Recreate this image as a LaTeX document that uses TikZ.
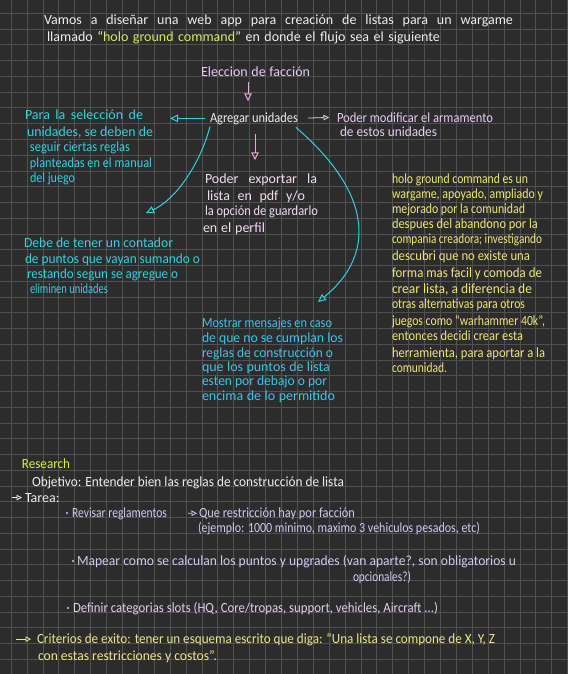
\documentclass[tikz,border=0pt]{standalone}
\usepackage{fontspec}
\setmainfont{Carlito}
\usetikzlibrary{arrows.meta}
\definecolor{bg}{HTML}{2C2C2C}
\definecolor{gridc}{HTML}{515151}
\definecolor{wht}{HTML}{EEEEEE}
\definecolor{hgc}{HTML}{D6EC5C}
\definecolor{lav}{HTML}{E6CDF2}
\definecolor{pnk}{HTML}{EBA6DA}
\definecolor{pkw}{HTML}{F2DDF2}
\definecolor{cyn}{HTML}{2FD3E3}
\definecolor{cyb}{HTML}{3CC4EC}
\definecolor{ylw}{HTML}{EEE873}
\definecolor{rsc}{HTML}{DDF03C}
\definecolor{lvb}{HTML}{CFCBF6}
\definecolor{ylc}{HTML}{EEE886}
\newsavebox\fitbox
\newlength\fitw
\newcommand\fitln[2]{\sbox\fitbox{#2}\setlength\fitw{\wd\fitbox}\ifdim\fitw>#1\relax\scalebox{\fpeval{(#1)/\fitw}}[1]{\usebox\fitbox}\else\makebox[#1][s]{#2}\fi}
\newcommand\txtln[6]{\node[txt,text=#5] (#1) at (#2,#3) {\fitln{#4pt}{#6}};}
\tikzset{
  txt/.style={anchor=base west,inner sep=0pt,outer sep=0pt,font=\fontsize{14}{16}\selectfont},
  gridline/.style={draw=gridc,line width=0.6pt},
  harr/.style={-{Triangle[open,length=8pt,width=7.5pt]},line width=1pt},
  sarr/.style={-{Triangle[open,length=5.5pt,width=5.5pt]},line width=0.8pt},
}
\begin{document}
\begin{tikzpicture}[x=1pt,y=-1pt]
\useasboundingbox (0,0) rectangle (568,674);
\fill[bg] (0,0) rectangle (568,674);
\foreach \i in {0,...,35} {\draw[gridline] ({11+15.9*\i},0) -- ({11+15.9*\i},674);}
\foreach \j in {0,...,42} {\draw[gridline] (0,{13.3+15.75*\j}) -- (568,{13.3+15.75*\j});}

% title
\txtln{t1}{44}{25}{469}{wht}{Vamos a diseñar una web app para creación de listas para un wargame}
\txtln{t2}{47}{42}{393}{wht}{llamado “\textcolor{hgc}{holo ground command}” en donde el flujo sea el siguiente}

% flow
\txtln{elec}{201}{77}{109}{lav}{Eleccion de facción}
\txtln{agr}{210}{122}{88}{wht}{Agregar unidades}
\txtln{mod1}{337}{122}{156}{lav}{Poder modificar el armamento}
\txtln{mod2}{340}{136}{97}{lav}{de estos unidades}

\txtln{p1}{25}{120}{118}{cyn}{Para la selección de}
\txtln{p2}{27}{136}{126}{cyn}{unidades, se deben de}
\txtln{p3}{30}{151}{100}{cyn}{seguir ciertas reglas}
\txtln{p4}{30}{167}{122}{cyn}{planteadas en el manual}
\txtln{p5}{30}{182}{45}{cyn}{del juego}

\txtln{e1}{205}{183}{112}{pkw}{Poder exportar la}
\txtln{e2}{207}{200}{98}{pkw}{lista en pdf y/o}
\txtln{e3}{205}{215}{113}{pkw}{la opción de guardarlo}
\txtln{e4}{203}{232}{62}{pkw}{en el perfil}

\txtln{d1}{24}{247}{149}{cyn}{Debe de tener un contador}
\txtln{d2}{25}{263}{175}{cyn}{de puntos que vayan sumando o}
\txtln{d3}{27}{278}{151}{cyn}{restando segun se agregue o}
\txtln{d4}{30}{293}{78}{cyn}{eliminen unidades}

\txtln{m1}{202}{327}{130}{cyb}{Mostrar mensajes en caso}
\txtln{m2}{202}{342}{141}{cyb}{de que no se cumplan los}
\txtln{m3}{202}{357}{131}{cyb}{reglas de construcción o}
\txtln{m4}{202}{371}{128}{cyb}{que los puntos de lista}
\txtln{m5}{202}{385}{125}{cyb}{esten por debajo o por}
\txtln{m6}{202}{400}{133}{cyb}{encima de lo permitido}

\txtln{y1}{392}{183}{136}{ylw}{holo ground command es un}
\txtln{y2}{392}{198}{151}{ylw}{wargame, apoyado, ampliado y}
\txtln{y3}{392}{213}{133}{ylw}{mejorado por la comunidad}
\txtln{y4}{392}{228}{146}{ylw}{despues del abandono por la}
\txtln{y5}{392}{243}{150}{ylw}{compania creadora; investigando}
\txtln{y6}{392}{260}{138}{ylw}{descubri que no existe una}
\txtln{y7}{392}{277}{150}{ylw}{forma mas facil y comoda de}
\txtln{y8}{392}{293}{140}{ylw}{crear lista, a diferencia de}
\txtln{y9}{392}{308}{133}{ylw}{otras alternativas para otros}
\txtln{y10}{392}{325}{153}{ylw}{juegos como “warhammer 40k”,}
\txtln{y11}{392}{340}{131}{ylw}{entonces decidi crear esta}
\txtln{y12}{392}{357}{153}{ylw}{herramienta, para aportar a la}
\txtln{y13}{392}{372}{55}{ylw}{comunidad.}

% connectors of the flow
\coordinate (ax) at (248,0);
\coordinate (bx) at (255,0);
\coordinate (h1) at (146,213);
\coordinate (h2) at (318,302);
\draw[harr,pnk,shorten <=5pt,shorten >=11pt] (elec.south -| ax) -- (agr.north -| ax);
\draw[harr,pnk,shorten <=10pt,shorten >=13pt] (agr.south -| bx) -- (e1.north -| bx);
\draw[harr,cyn,shorten <=5pt,shorten >=27pt] (agr.west) -- (p1.east |- agr.west);
\draw[sarr,lav,shorten <=10pt,shorten >=8pt] (agr.east) -- (mod1.west);
\draw[harr,cyn] ([shift={(0pt,-2pt)}]agr.south west) .. controls (200,165) and (175,200) .. (h1);
\draw[harr,cyn] ([shift={(-2pt,-3pt)}]agr.south east) .. controls (380,200) and (370,260) .. (h2);

% research
\txtln{r0}{22}{468}{48}{rsc}{Research}
\txtln{r1}{32}{486}{312}{wht}{Objetivo: Entender bien las reglas de construcción de lista}
\txtln{tarea}{25}{502}{37}{wht}{Tarea:}
\coordinate (ta0) at (12,0);
\draw[sarr,wht,shorten >=3pt] (tarea.west -| ta0) -- (tarea.west);

\fill[lvb] (67,513) circle (1.2);
\txtln{rev1}{72}{517}{95}{lvb}{Revisar reglamentos}
\txtln{rev2}{199}{517}{156}{lvb}{Que restricción hay por facción}
\draw[sarr,lvb,shorten <=21pt,shorten >=2pt] (rev1.east) -- (rev2.west);
\txtln{rev3}{198}{532}{282}{lvb}{(ejemplo: 1000 minimo, maximo 3 vehiculos pesados, etc)}

\fill[lvb] (73,561) circle (1.2);
\txtln{map1}{77}{565}{439}{lvb}{Mapear como se calculan los puntos y upgrades (van aparte?, son obligatorios u}
\txtln{map2}{353}{581}{58}{lvb}{opcionales?)}

\fill[lav] (68,608) circle (1.2);
\txtln{def1}{73}{612}{365}{lav}{Definir categorias slots (HQ, Core/tropas, support, vehicles, Aircraft ...)}

\txtln{crit1}{37}{643}{458}{ylc}{Criterios de exito: tener un esquema escrito que diga: “Una lista se compone de X, Y, Z}
\txtln{crit2}{38}{660}{179}{ylc}{con estas restricciones y costos”.}
\coordinate (cr0) at (16,0);
\draw[sarr,ylc,shorten >=6pt] (crit1.west -| cr0) -- (crit1.west);
\end{tikzpicture}
\end{document}
